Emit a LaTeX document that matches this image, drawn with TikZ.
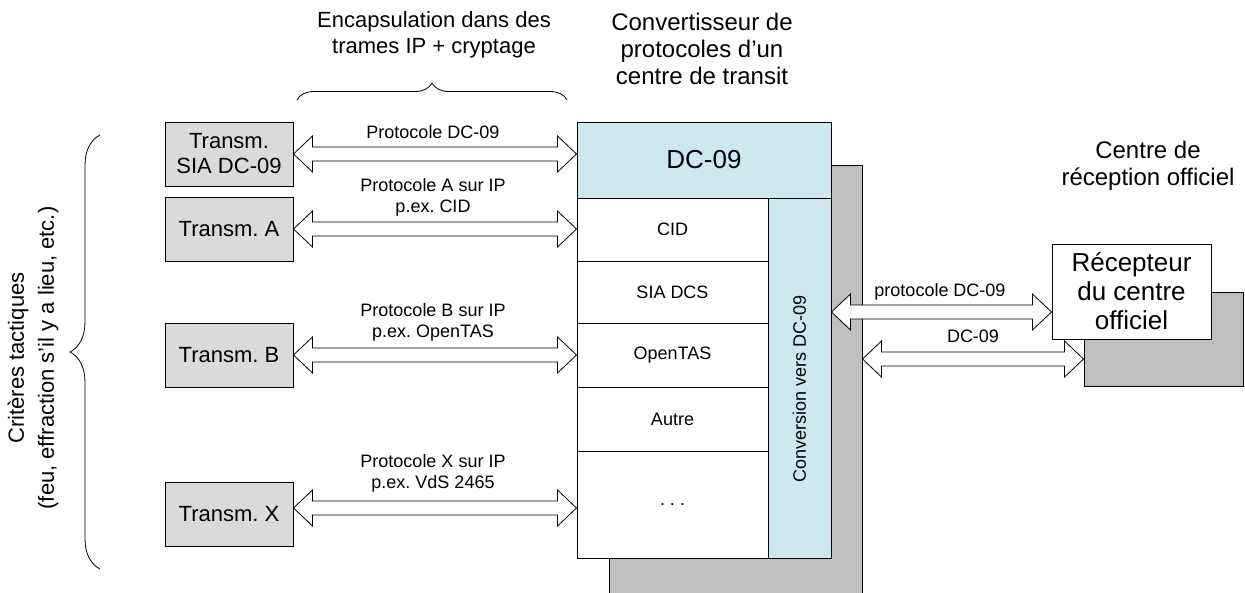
\documentclass[tikz,border=0pt]{standalone}
\usepackage{fontspec}
\setmainfont{Liberation Sans}
\frenchspacing
\usetikzlibrary{calc,decorations.pathreplacing}
\definecolor{shadowgray}{RGB}{191,191,191}
\definecolor{boxgray}{RGB}{218,218,218}
\definecolor{convblue}{RGB}{205,233,239}
% hollow double-headed arrow, horizontal at the height of #1, from x of #1 to x of #2
\newcommand\blockarrow[2]{\draw[blockarr] let \p1=#1, \p2=#2 in
  (\x1,\y1) -- (\x1+19pt,\y1+18pt) -- (\x1+19pt,\y1+7pt) -- (\x2-19pt,\y1+7pt)
  -- (\x2-19pt,\y1+18pt) -- (\x2,\y1) -- (\x2-19pt,\y1-18pt) -- (\x2-19pt,\y1-7pt)
  -- (\x1+19pt,\y1-7pt) -- (\x1+19pt,\y1-18pt) -- cycle;}

\begin{document}
\begin{tikzpicture}[x=1pt,y=-1pt,
    every node/.style={inner sep=0pt, align=center},
    box/.style={draw, line width=1pt},
    transm/.style={box, fill=boxgray, minimum width=128pt, minimum height=64pt,
      font=\fontsize{22}{25}\selectfont},
    rowbox/.style={box, fill=white, minimum width=191pt, font=\fontsize{18}{21}\selectfont},
    shadowbox/.style={box, fill=shadowgray},
    blockarr/.style={draw, fill=white, line width=0.8pt, line join=miter},
    arrlabel/.style={font=\fontsize{18}{21}\selectfont},
    title/.style={font=\fontsize{24}{27}\selectfont},
    brace/.style={decorate, line width=0.8pt}]
		%%%%% START %%%%%
		\useasboundingbox (0,0) rectangle (1245,592);

		% transmitters
		\node[transm] (tsia) at (229,154) {Transm.\\SIA DC-09};
		\node[transm] (ta) at (229,229) {Transm. A};
		\node[transm] (tb) at (229,355) {Transm. B};
		\node[transm] (tx) at (229,514) {Transm. X};

		% converter of the transit centre
		\node[shadowbox, minimum width=253pt, minimum height=440pt] (cshadow) at (735.5,385) {};
		\node[box, fill=convblue, minimum width=254pt, minimum height=76pt,
		  font=\fontsize{26}{30}\selectfont] (hdr) at (704,160) {DC-09};
		\node[rowbox, minimum height=63pt] (cid) at (672.5,229.5) {CID};
		\node[rowbox, minimum height=62pt] (dcs) at (672.5,292) {SIA DCS};
		\node[rowbox, minimum height=64pt] (otas) at (672.5,355) {OpenTAS};
		\node[rowbox, minimum height=64pt] (autre) at (672.5,419) {Autre};
		\node[rowbox, minimum height=107pt] (dots) at (672.5,504.5) {.\hspace{5pt}.\hspace{5pt}.};
		\node[box, fill=convblue, minimum width=63pt, minimum height=360pt] (conv) at (799.5,378) {};
		\node[rotate=90, arrlabel] (convtxt) at ([yshift=-11pt]conv.center) {Conversion vers DC-09};

		% official receiving centre
		\node[shadowbox, minimum width=159pt, minimum height=94pt] (recsh) at (1163.5,339) {};
		\coordinate (rxa) at ([yshift=-20pt]recsh.west);
		\coordinate (rxb) at ([xshift=-32pt]recsh.west);
		\coordinate (txa) at ([yshift=6pt]tx.east);

		\blockarrow{(tsia.east)}{(hdr.west)}
		\blockarrow{(ta.east)}{(cid.west)}
		\blockarrow{(tb.east)}{(otas.west)}
		\blockarrow{(txa)}{(dots.west)}
		\blockarrow{([yshift=66pt]conv.east)}{(rxb)}
		\blockarrow{(cshadow.east |- rxa)}{(rxa)}

		\node[box, fill=white, minimum width=159pt, minimum height=95pt,
		  font=\fontsize{26}{29}\selectfont] (rec) at (1131.5,291.5) {Récepteur\\du centre\\officiel};

		% arrow labels
		\node[arrlabel] (lsia) at (433,132) {Protocole DC-09};
		\node[arrlabel] (la) at (433,197.5) {Protocole A sur IP\\p.ex. CID};
		\node[arrlabel] (lb) at (433,322.5) {Protocole B sur IP\\p.ex. OpenTAS};
		\node[arrlabel] (lx) at (433,473.5) {Protocole X sur IP\\p.ex. VdS 2465};
		\node[arrlabel] (lprot) at (940,292) {protocole DC-09};
		\node[arrlabel] (ldc) at (973,336) {DC-09};

		% titles and braces
		\node[title, font=\fontsize{22}{26}\selectfont] (tencap) at (434,35) {Encapsulation dans des\\trames IP + cryptage};
		\draw[brace, decoration={brace, amplitude=17pt}] (297,100) -- (567,100);
		\node[title] (tconv) at (702,48.5) {Convertisseur de\\protocoles d’un\\centre de transit};
		\node[title] (trec) at (1148,166) {Centre de\\réception officiel};
		\node[rotate=90, font=\fontsize{22}{30}\selectfont] (tcrit) at (33,358)
		  {Critères tactiques\\(feu, effraction s’il y a lieu, etc.)};
		\draw[brace, decoration={brace, amplitude=30pt}] (100,569) -- (100,135);
		%%%%% END %%%%%
\end{tikzpicture}
\end{document}
